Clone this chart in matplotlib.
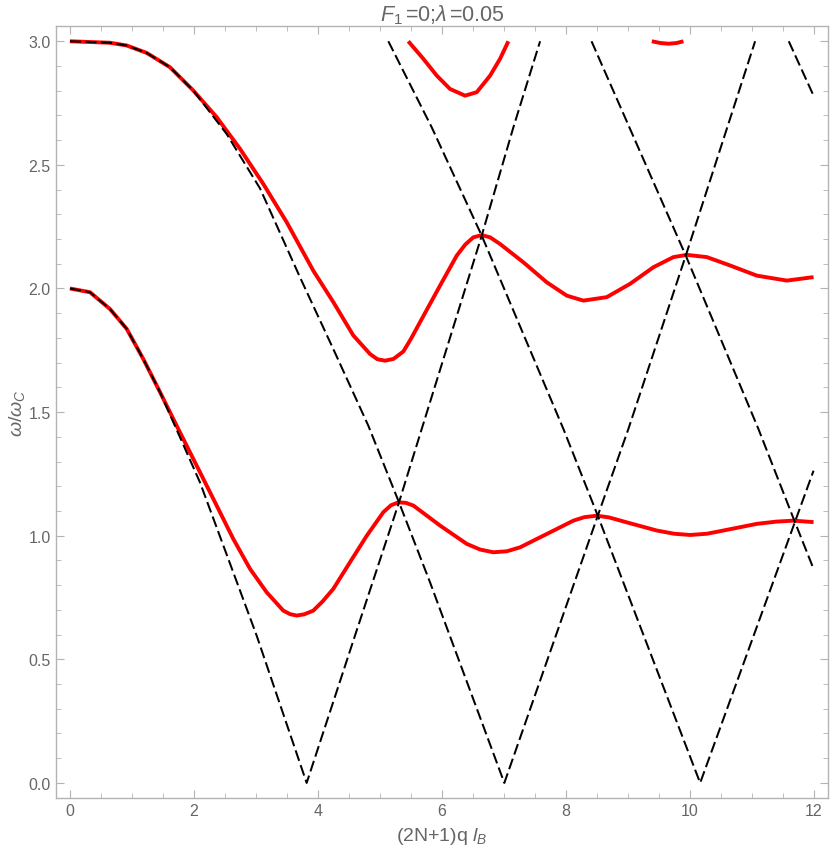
import matplotlib
matplotlib.use("Agg")
import matplotlib.pyplot as plt
from matplotlib.ticker import MultipleLocator

plt.rcParams['font.family'] = ['Liberation Sans', 'DejaVu Sans']
plt.rcParams['mathtext.fontset'] = 'custom'
plt.rcParams['mathtext.rm'] = 'Liberation Sans'
plt.rcParams['mathtext.it'] = 'Liberation Sans:italic'

# dashed reference curves
dashA_x = [0, 0.323, 0.646, 0.915, 1.183, 1.453, 2.098, 3.013, 3.82, 4.6, 5.31, 5.677, 6.645, 7.156, 7.587]
dashA_y = [2.0, 1.985, 1.917, 1.837, 1.715, 1.581, 1.216, 0.596, 0.0, 0.596, 1.135, 1.432, 2.214, 2.652, 3.0]

dashB_x = [0, 0.646, 0.915, 1.238, 1.614, 1.99, 2.529, 3.067, 3.713, 4.25, 4.815, 5.31, 5.81, 7.01, 8.518, 9.012, 9.938, 11.057]
dashB_y = [3.0, 2.994, 2.983, 2.953, 2.895, 2.801, 2.625, 2.405, 2.045, 1.755, 1.445, 1.135, 0.812, 0.0, 1.081, 1.432, 2.133, 3.0]

dashC_x = [5.138, 5.838, 6.645, 7.963, 8.518, 10.17, 12.0]
dashC_y = [3.0, 2.652, 2.214, 1.432, 1.081, 0.0, 1.263]

dashD_x = [8.417, 9.938, 11.11, 11.69, 12.0]
dashD_y = [3.0, 2.133, 1.432, 1.061, 0.866]

dashE_x = [11.6, 12.0]
dashE_y = [3.0, 2.78]

# red solid branches
redL_x = [0, 0.323, 0.646, 0.915, 1.183, 1.453, 1.722, 1.99, 2.26, 2.636, 2.906, 3.175, 3.443, 3.55, 3.659, 3.78,
          3.927, 4.08, 4.25, 4.52, 4.79, 5.057, 5.18, 5.3, 5.42, 5.542, 5.973, 6.403, 6.62, 6.833, 7.05, 7.264,
          7.695, 8.125, 8.3, 8.502, 8.7, 8.986, 9.47, 9.75, 10.008, 10.28, 10.546, 11.085, 11.4, 11.676, 12.0]
redL_y = [2.0, 1.985, 1.917, 1.837, 1.715, 1.581, 1.445, 1.311, 1.176, 0.987, 0.866, 0.771, 0.697, 0.683, 0.677, 0.682,
          0.697, 0.735, 0.785, 0.893, 1.0, 1.095, 1.123, 1.135, 1.133, 1.122, 1.041, 0.967, 0.944, 0.933, 0.937, 0.953,
          1.007, 1.061, 1.075, 1.081, 1.074, 1.054, 1.021, 1.008, 1.003, 1.008, 1.021, 1.048, 1.057, 1.061, 1.055]

redU_x = [0, 0.646, 0.915, 1.238, 1.614, 1.99, 2.368, 2.744, 3.12, 3.498, 3.927, 4.25, 4.573, 4.843, 4.96, 5.085,
          5.22, 5.38, 5.5, 5.65, 5.973, 6.242, 6.38, 6.51, 6.645, 6.78, 6.941, 7.317, 7.695, 8.018, 8.286, 8.663,
          9.04, 9.416, 9.739, 9.955, 10.278, 10.654, 11.085, 11.569, 12.0]
redU_y = [3.0, 2.994, 2.983, 2.953, 2.895, 2.801, 2.693, 2.565, 2.423, 2.268, 2.072, 1.945, 1.81, 1.735, 1.714, 1.708,
          1.715, 1.745, 1.795, 1.864, 2.012, 2.133, 2.178, 2.207, 2.216, 2.207, 2.18, 2.106, 2.025, 1.971, 1.951, 1.965,
          2.019, 2.086, 2.127, 2.136, 2.127, 2.093, 2.052, 2.032, 2.046]

redT_x = [5.46, 5.703, 5.92, 6.134, 6.376, 6.565, 6.78, 6.941, 7.075]
redT_y = [3.0, 2.929, 2.861, 2.807, 2.780, 2.794, 2.861, 2.929, 3.0]

redS_x = [9.39, 9.53, 9.66, 9.79, 9.90]
redS_y = [3.0, 2.993, 2.99, 2.993, 3.0]

fig = plt.figure(figsize=(8.30, 8.53), dpi=100)
ax = fig.add_axes([0.0671, 0.063, 0.931, 0.9057])

for xs, ys in [(redL_x, redL_y), (redU_x, redU_y), (redT_x, redT_y), (redS_x, redS_y)]:
    ax.plot(xs, ys, color='red', lw=2.8, solid_capstyle='butt', solid_joinstyle='round')
for xs, ys in [(dashA_x, dashA_y), (dashB_x, dashB_y), (dashC_x, dashC_y), (dashD_x, dashD_y), (dashE_x, dashE_y)]:
    ax.plot(xs, ys, color='black', lw=1.45, dashes=(5.5, 2.2))

ax.set_xlim(-0.23, 12.24)
ax.set_ylim(-0.062, 3.063)

ax.xaxis.set_major_locator(MultipleLocator(2))
ax.xaxis.set_minor_locator(MultipleLocator(0.5))
ax.yaxis.set_major_locator(MultipleLocator(0.5))
ax.yaxis.set_minor_locator(MultipleLocator(0.1))
ax.yaxis.set_major_formatter(plt.FuncFormatter(lambda v, p: '%.1f' % v))

gray = '#b3b3b3'
for s in ax.spines.values():
    s.set_color(gray)
    s.set_linewidth(1.0)
ax.tick_params(which='both', direction='in', top=True, right=True, color=gray,
               labelcolor='#666666', labelsize=11.5)
ax.tick_params(which='major', length=6, width=0.8)
ax.tick_params(which='minor', length=3.5, width=0.6)

ax.set_xlabel('(2N+1)q $l_B$', color='#666666', fontsize=14, labelpad=5)
ax.set_ylabel(r'$\omega$/$\omega_C$', color='#666666', fontsize=14, labelpad=1)
ax.set_title(r'$F_1\,$=0;$\lambda\,$=0.05', color='#666666', fontsize=15.5, pad=3)

fig.savefig('out.png', dpi=100)
